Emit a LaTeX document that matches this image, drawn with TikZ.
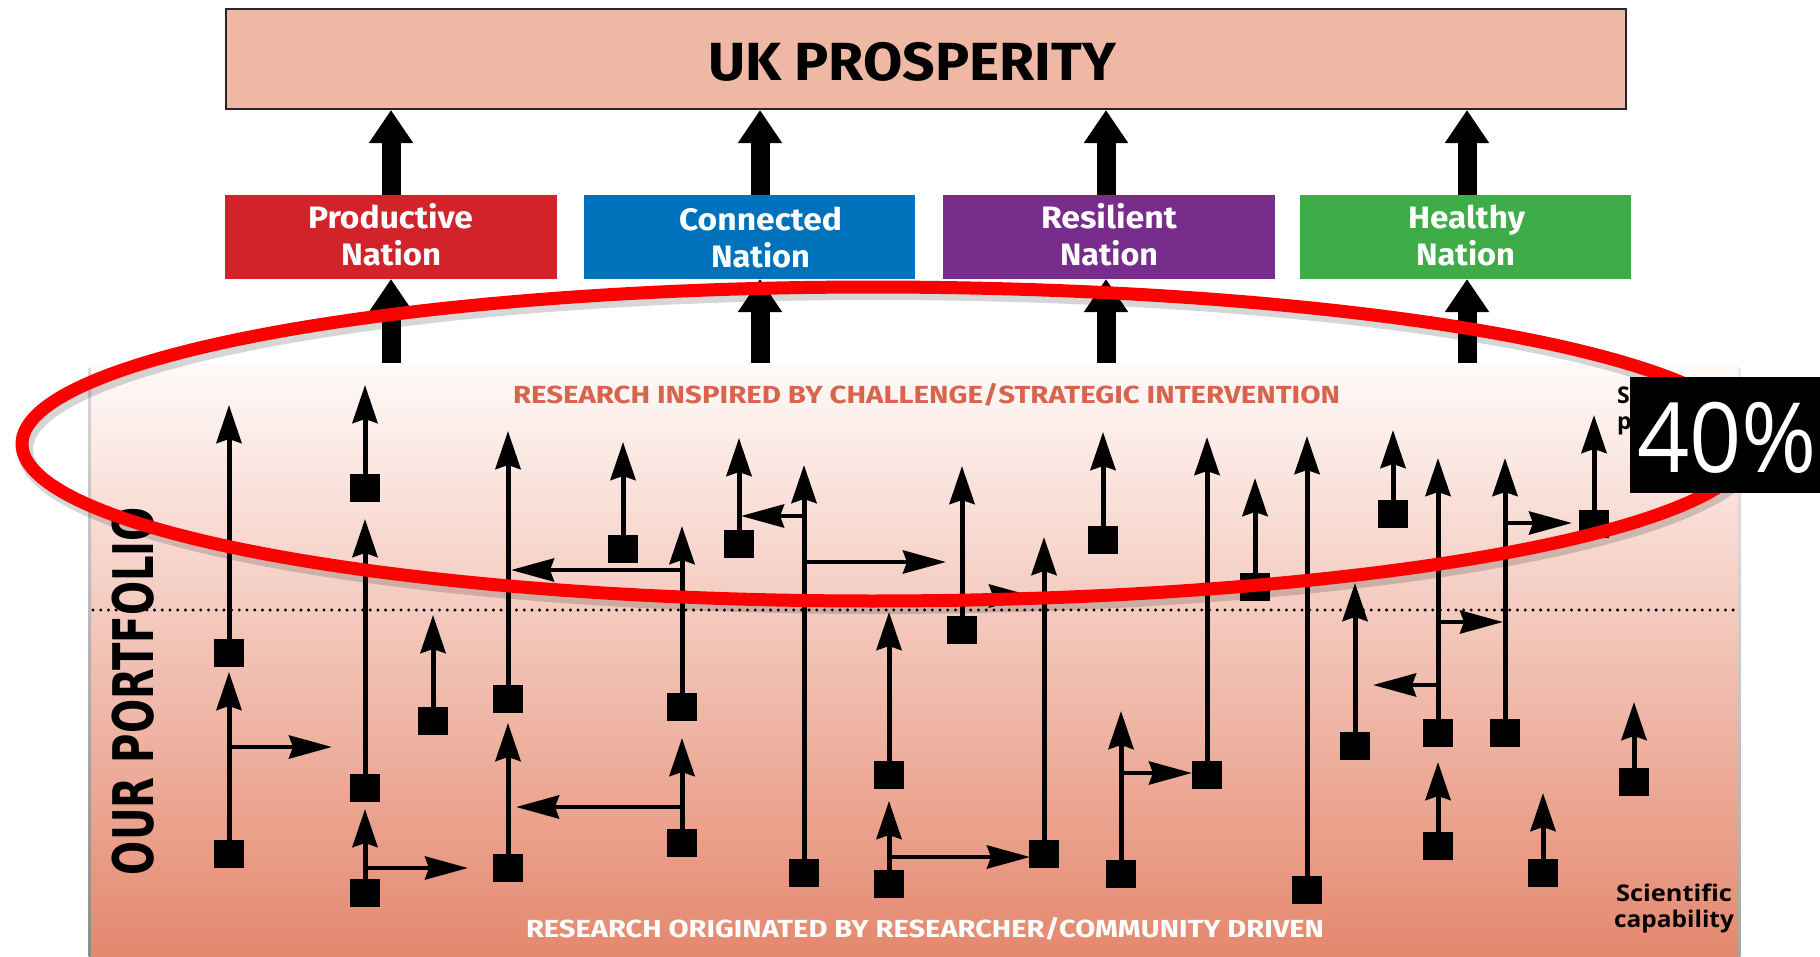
\documentclass[tikz,border=0pt]{standalone}
\usepackage{fontspec}
\usetikzlibrary{arrows.meta,calc}
\newfontfamily\fira{Fira Sans}
\newfontfamily\opens{Open Sans}
\newfontfamily\dejav{DejaVu Sans}
\newcommand\fitx[2]{\resizebox{#1}{\height}{#2}}
\definecolor{ukfill}{RGB}{239,184,165}
\definecolor{prodred}{RGB}{210,35,42}
\definecolor{connblue}{RGB}{0,114,188}
\definecolor{respurp}{RGB}{120,44,140}
\definecolor{healgreen}{RGB}{62,172,73}
\definecolor{salmon}{RGB}{217,100,78}
\definecolor{bgtop}{RGB}{255,250,248}
\definecolor{bgbot}{RGB}{228,136,110}
\tikzset{
  sq/.style={fill=black, minimum width=30pt, minimum height=28pt, inner sep=0pt, outer sep=0pt},
  varr/.style={line width=5pt, -{Stealth[length=38pt, width=25pt, inset=4pt]}},
  harr/.style={line width=4.5pt, -{Stealth[length=43pt, width=23pt, inset=4pt]}},
  bigarr/.style={line width=19pt, -{Triangle[length=33pt, width=42pt]}},
  nbox/.style={minimum width=332pt, minimum height=84pt, inner sep=0pt, outer sep=0pt},
  txt/.style={inner sep=0pt, outer sep=0pt},
  nattxt/.style={txt, anchor=base, text=white, font=\fira\bfseries\fontsize{31}{34}\selectfont},
}
\begin{document}
\begin{tikzpicture}[x=1pt,y=-1pt]
\useasboundingbox (0,0) rectangle (1820,956);
\fill[white] (0,0) rectangle (1820,956);
% portfolio background
\shade[top color=bgtop,bottom color=bgbot] (90,364) rectangle (1739,956);
\shade[top color=gray!30,bottom color=gray!90] (88.5,368) rectangle (91,956);
\shade[top color=gray!15,bottom color=gray!70] (1738,368) rectangle (1740.5,956);
\draw[line width=3.3pt, dash pattern=on 0pt off 7.7pt, line cap=round] (93,610) -- (1735,610);

% squares and tips
\foreach \n/\x/\y/\t in {A1/229/653/405, A2/229/854/672, B1/365/488/385, B2/365/788/519,
  B3/365/893/809, C/433/721/615, D1/508/699/431, D2/508/868/723, E/623/549/442,
  F1/682/707/526, F2/682/843/738, G/739/544/438, H/804/873/465, I1/889/775/612,
  I2/889/884/801, J/962/630/466, K/1044/854/537, L/1103/540/432, M/1121/874/711,
  N/1207/775/437, O/1255/587/478, P/1307/890/436, Q/1355/746/583, R/1393/514/430,
  S1/1438/733/458, S2/1438/846/762, T/1505/733/458, U/1594/524/415, V/1543/873/793,
  W/1634/782/702}{
  \node[sq] (\n) at (\x,\y) {};
  \coordinate (t\n) at (\x,\t);
  \draw[varr] (\n) -- (t\n);
}
% horizontal branches
\foreach \s/\yy/\xx in {A2/747/332, B3/868/468, F1/570/511, F2/807/516, H/516/741,
  H/562/946, J/596/1032, I2/857/1030, M/773/1192, S1/622/1503, S1/685/1373, T/523/1572}{
  \coordinate (h) at (\xx,\yy);
  \draw[harr] (\s |- h) -- (h);
}

% labels in portfolio
\node[txt, anchor=base west, text=salmon] (rinsp) at (513,403)
  {\fira\bfseries\fontsize{24.7}{28}\selectfont\fitx{827pt}{RESEARCH INSPIRED BY CHALLENGE/STRATEGIC INTERVENTION}};
\node[txt, anchor=base west, text=white] (rorig) at (526,937)
  {\fira\bfseries\fontsize{24.7}{28}\selectfont\fitx{798pt}{RESEARCH ORIGINATED BY RESEARCHER/COMMUNITY DRIVEN}};
\node[txt, rotate=90, anchor=base] (ourp) at (153,691)
  {\dejav\bfseries\fontsize{56}{60}\selectfont\fitx{368pt}{OUR PORTFOLIO}};
\node[txt, anchor=base east] (sci1) at (1732,901) {\opens\bfseries\fontsize{23}{26}\selectfont\fitx{116pt}{Scientific}};
\node[txt, anchor=base east] (sci2) at (1734,927) {\opens\bfseries\fontsize{23}{26}\selectfont\fitx{120pt}{capability}};
\node[txt, anchor=base west] (soc1) at (1617,403) {\opens\bfseries\fontsize{23}{26}\selectfont S};
\node[txt, anchor=base west] (soc2) at (1617,429) {\opens\bfseries\fontsize{23}{26}\selectfont p};

% UK prosperity
\node[draw=black!85, line width=2pt, fill=ukfill, minimum width=1400pt, minimum height=100pt, inner sep=0pt] (uk) at (926,59) {};
\node[txt, anchor=base west] (uktxt) at (708,80) {\fira\bfseries\fontsize{53.7}{58}\selectfont\fitx{408pt}{UK PROSPERITY}};

% nation boxes
\node[nbox, fill=prodred] (prod) at (391,237) {};
\node[nbox, fill=connblue, minimum width=331pt] (conn) at (749.5,237) {};
\node[nbox, fill=respurp] (resi) at (1109,237) {};
\node[nbox, fill=healgreen, minimum width=331pt] (heal) at (1465.5,237) {};
\node[nattxt] (p1) at (390.5,228) {\fitx{165pt}{Productive}};
\node[nattxt] (p2) at (391,265) {\fitx{100pt}{Nation}};
\node[nattxt] (c1) at (760.5,230) {\fitx{163pt}{Connected}};
\node[nattxt] (c2) at (760.5,267) {\fitx{99pt}{Nation}};
\node[nattxt] (r1) at (1109,228) {\fitx{136pt}{Resilient}};
\node[nattxt] (r2) at (1109,265) {\fitx{98pt}{Nation}};
\node[nattxt] (g1) at (1466.5,228) {\fitx{117pt}{Healthy}};
\node[nattxt] (g2) at (1465.5,265) {\fitx{99pt}{Nation}};

% thick arrows
\foreach \bx in {391,760,1106,1467}{
  \coordinate (bb) at (\bx,363);
  \draw[bigarr] (bb) -- (bb |- prod.south);
  \draw[bigarr] (bb |- prod.north) -- (bb |- uk.south);
}

% red ellipse with soft shadow
\begin{scope}[shift={(3,5)}]
\draw[black, opacity=0.16, line width=16pt, line join=round]
  plot[domain=90:270,samples=160] ({872+850*cos(\x)},{444-157*sin(\x)}) --
  plot[domain=-90:90,samples=160] ({872+880*cos(\x)},{444-157*sin(\x)}) -- cycle;
\end{scope}
\draw[red, line width=13pt, line join=round]
  plot[domain=90:270,samples=160] ({872+850*cos(\x)},{444-157*sin(\x)}) --
  plot[domain=-90:90,samples=160] ({872+880*cos(\x)},{444-157*sin(\x)}) -- cycle;

% 40% box
\node[fill=black, minimum width=190pt, minimum height=116pt, inner sep=0pt, anchor=north west] (pct) at (1630,377) {};
\node[txt, anchor=base west, text=white] (pcttxt) at (1637,472) {\opens\fontsize{97}{100}\selectfont\fitx{180pt}{40\%}};
\end{tikzpicture}
\end{document}
